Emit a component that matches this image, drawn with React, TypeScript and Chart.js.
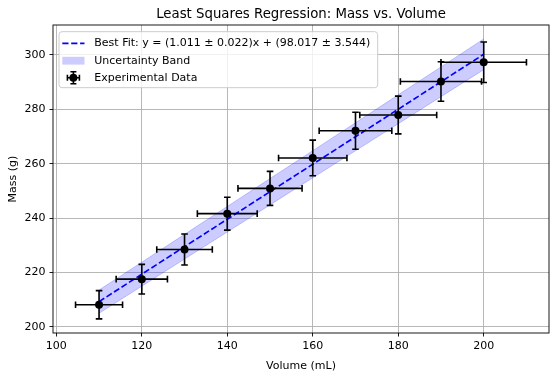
import { useEffect, useRef } from 'react';
import { Chart, registerables } from 'chart.js';
Chart.register(...registerables);

// ---- data ----
const volumes = [110, 120, 130, 140, 150, 160, 170, 180, 190, 200];
const masses = [208.1, 217.5, 228.4, 241.6, 250.9, 262.1, 272.1, 277.9, 290.2, 297.3];
const volumeErr = [5.5, 6.0, 6.5, 7.0, 7.5, 8.0, 8.5, 9.0, 9.5, 10.0];
const massErr = [5.2, 5.44, 5.71, 6.04, 6.27, 6.55, 6.8, 6.95, 7.26, 7.43];
const fitMass = [209.23, 219.34, 229.45, 239.56, 249.67, 259.78, 269.89, 280.0, 290.11, 300.22];
const bandUpper = [213.52, 223.76, 234.0, 244.26, 254.51, 264.77, 275.04, 285.31, 295.59, 305.87];
const bandLower = [204.94, 214.92, 224.9, 234.86, 244.83, 254.79, 264.74, 274.69, 284.63, 294.57];
const xTicks = [100, 120, 140, 160, 180, 200];
const yTicks = [200, 220, 240, 260, 280, 300];

const titleText = 'Least Squares Regression: Mass vs. Volume';
const xLabel = 'Volume (mL)';
const yLabel = 'Mass (g)';
const fitLabel = 'Best Fit: y = (1.011 ± 0.022)x + (98.017 ± 3.544)';
const bandLabel = 'Uncertainty Band';
const dataLabel = 'Experimental Data';

const FONT = 'DejaVu Sans';
const BLUE = '#0000ff';
const BAND = 'rgba(0,0,255,0.2)';
const DASH = [6.2, 2.7];

const decor = {
  id: 'decor',
  beforeDatasetDraw(chart: any, args: any) {
    if (args.index !== 3) return;
    const { ctx, scales } = chart;
    const xs = scales.x, ys = scales.y;
    ctx.save();
    ctx.strokeStyle = '#000';
    ctx.lineWidth = 1.6;
    const cap = 3.3;
    volumes.forEach((v, i) => {
      const m = masses[i];
      const px = xs.getPixelForValue(v);
      const py = ys.getPixelForValue(m);
      const x0 = xs.getPixelForValue(v - volumeErr[i]);
      const x1 = xs.getPixelForValue(v + volumeErr[i]);
      const y0 = ys.getPixelForValue(m - massErr[i]);
      const y1 = ys.getPixelForValue(m + massErr[i]);
      ctx.beginPath();
      ctx.moveTo(x0, py); ctx.lineTo(x1, py);
      ctx.moveTo(px, y0); ctx.lineTo(px, y1);
      ctx.moveTo(x0, py - cap); ctx.lineTo(x0, py + cap);
      ctx.moveTo(x1, py - cap); ctx.lineTo(x1, py + cap);
      ctx.moveTo(px - cap, y0); ctx.lineTo(px + cap, y0);
      ctx.moveTo(px - cap, y1); ctx.lineTo(px + cap, y1);
      ctx.stroke();
    });
    ctx.restore();
  },
  afterDatasetsDraw(chart: any) {
    const { ctx, chartArea: a } = chart;
    ctx.save();
    ctx.strokeStyle = '#000';
    ctx.lineWidth = 0.9;
    ctx.strokeRect(a.left, a.top, a.right - a.left, a.bottom - a.top);
    ctx.restore();
  },
  afterDraw(chart: any) {
    const { ctx, chartArea: a } = chart;
    ctx.save();
    ctx.fillStyle = '#000';
    ctx.textAlign = 'center';
    ctx.textBaseline = 'middle';
    ctx.font = `13.3px "${FONT}"`;
    ctx.fillText(titleText, (a.left + a.right) / 2, 15);
    ctx.font = `11px "${FONT}"`;
    ctx.fillText(xLabel, (a.left + a.right) / 2, 366);
    ctx.save();
    ctx.translate(13, (a.top + a.bottom) / 2);
    ctx.rotate(-Math.PI / 2);
    ctx.fillText(yLabel, 0, 0);
    ctx.restore();

    // legend
    const lx = 59, ly = 31.7, lw = 318.7, lh = 56;
    ctx.beginPath();
    (ctx as any).roundRect(lx, ly, lw, lh, 3);
    ctx.fillStyle = 'rgba(255,255,255,0.8)';
    ctx.fill();
    ctx.strokeStyle = '#cccccc';
    ctx.lineWidth = 1;
    ctx.stroke();

    const hx0 = 62.3, hx1 = 84.5, tx = 94.3;
    const rows = [43.3, 60.7, 77.7];
    ctx.strokeStyle = BLUE;
    ctx.lineWidth = 1.67;
    ctx.setLineDash(DASH);
    ctx.beginPath();
    ctx.moveTo(hx0, rows[0]); ctx.lineTo(hx1, rows[0]);
    ctx.stroke();
    ctx.setLineDash([]);
    ctx.fillStyle = BAND;
    ctx.fillRect(hx0, rows[1] - 3.9, hx1 - hx0, 7.8);
    // errorbar handle
    const cx = (hx0 + hx1) / 2, cy = rows[2];
    ctx.strokeStyle = '#000';
    ctx.lineWidth = 1.6;
    ctx.beginPath();
    ctx.moveTo(cx - 6, cy); ctx.lineTo(cx + 6, cy);
    ctx.moveTo(cx, cy - 6); ctx.lineTo(cx, cy + 6);
    ctx.moveTo(cx - 6, cy - 3); ctx.lineTo(cx - 6, cy + 3);
    ctx.moveTo(cx + 6, cy - 3); ctx.lineTo(cx + 6, cy + 3);
    ctx.moveTo(cx - 3, cy - 6); ctx.lineTo(cx + 3, cy - 6);
    ctx.moveTo(cx - 3, cy + 6); ctx.lineTo(cx + 3, cy + 6);
    ctx.stroke();
    ctx.fillStyle = '#000';
    ctx.beginPath();
    ctx.arc(cx, cy, 4, 0, Math.PI * 2);
    ctx.fill();

    ctx.fillStyle = '#000';
    ctx.textAlign = 'left';
    ctx.font = `11px "${FONT}"`;
    ctx.fillText(fitLabel, tx, rows[0]);
    ctx.fillText(bandLabel, tx, rows[1]);
    ctx.fillText(dataLabel, tx, rows[2]);
    ctx.restore();
  },
};

export default function App() {
  const ref = useRef<HTMLCanvasElement>(null);
  useEffect(() => {
    document.body.style.margin = '0';
    const toXY = (ys: number[]) => volumes.map((v, i) => ({ x: v, y: ys[i] }));
    const chart = new Chart(ref.current!, {
      type: 'line',
      data: {
        datasets: [
          {
            label: bandLabel,
            data: toXY(bandUpper),
            borderColor: BAND,
            borderWidth: 1,
            backgroundColor: BAND,
            pointRadius: 0,
            fill: '+1',
            order: 3,
          },
          {
            label: bandLabel + ' lower',
            data: toXY(bandLower),
            borderColor: BAND,
            borderWidth: 1,
            backgroundColor: BAND,
            pointRadius: 0,
            fill: false,
            order: 3,
          },
          {
            label: fitLabel,
            data: toXY(fitMass),
            borderColor: BLUE,
            borderWidth: 1.67,
            borderDash: DASH,
            pointRadius: 0,
            fill: false,
            order: 2,
          },
          {
            label: dataLabel,
            data: toXY(masses),
            showLine: false,
            pointRadius: 4,
            pointBackgroundColor: '#000',
            pointBorderColor: '#000',
            pointBorderWidth: 0,
            fill: false,
            order: 1,
          },
        ],
      },
      options: {
        responsive: false,
        animation: false,
        devicePixelRatio: 1,
        layout: { padding: { top: 25, right: 7, left: 0, bottom: 0 } },
        plugins: { legend: { display: false }, title: { display: false }, tooltip: { enabled: false } },
        scales: {
          x: {
            type: 'linear',
            min: 99.225,
            max: 215.275,
            afterFit: (s: any) => { s.height = 43; },
            afterBuildTicks: (s: any) => { s.ticks = xTicks.map((v) => ({ value: v })); },
            border: { display: false },
            grid: { color: '#b0b0b0', lineWidth: 0.9, tickColor: '#000', tickLength: 3.5, tickWidth: 0.9 },
            ticks: { color: '#000', font: { family: FONT, size: 11 }, padding: 3, maxRotation: 0 },
          },
          y: {
            type: 'linear',
            min: 197.7,
            max: 311.0,
            afterFit: (s: any) => { s.width = 53; },
            afterBuildTicks: (s: any) => { s.ticks = yTicks.map((v) => ({ value: v })); },
            border: { display: false },
            grid: { color: '#b0b0b0', lineWidth: 0.9, tickColor: '#000', tickLength: 3.5, tickWidth: 0.9 },
            ticks: { color: '#000', font: { family: FONT, size: 11 }, padding: 4 },
          },
        },
      },
      plugins: [decor],
    });
    return () => chart.destroy();
  }, []);
  return <canvas ref={ref} width={556} height={376} style={{ display: 'block' }} />;
}
